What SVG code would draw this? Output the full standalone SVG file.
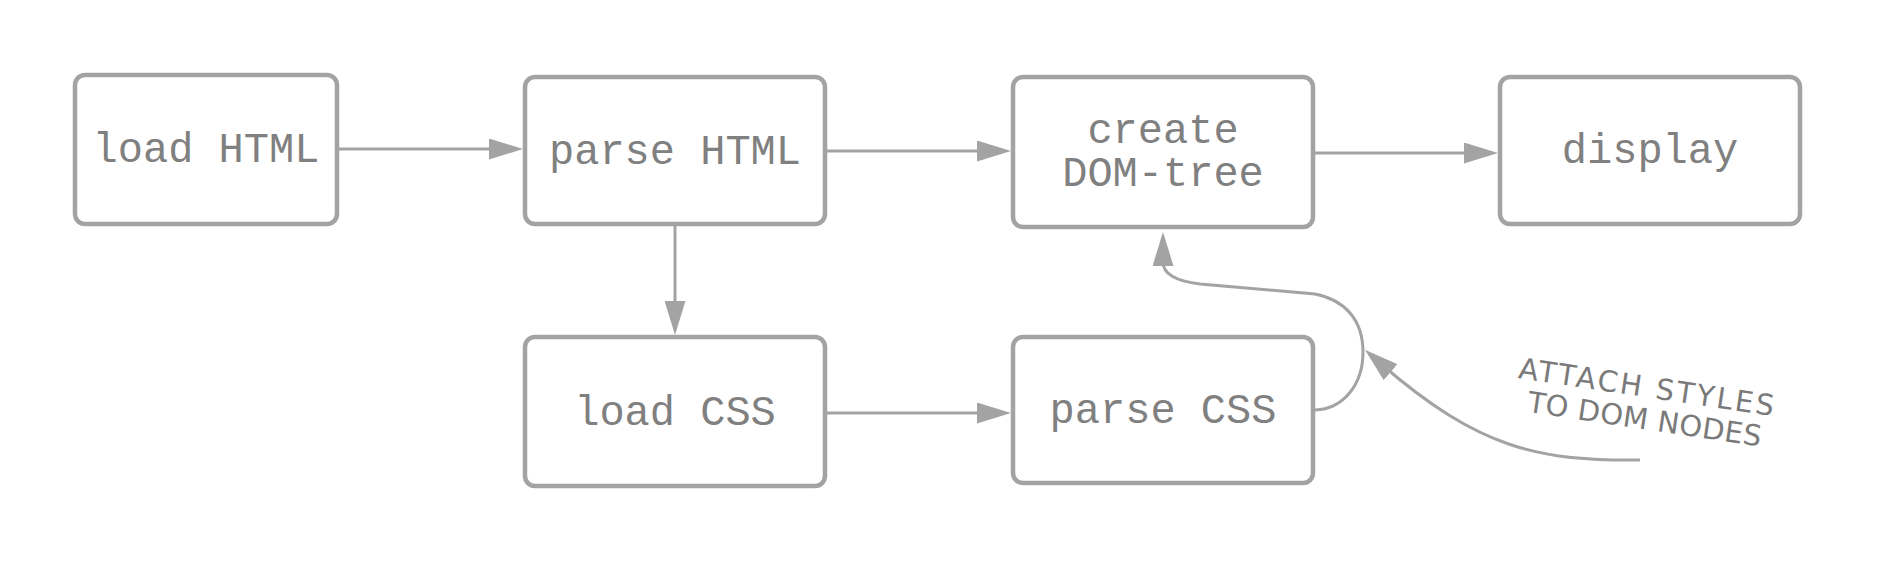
<svg xmlns="http://www.w3.org/2000/svg" width="1881" height="564" viewBox="0 0 1881 564">
<style>
.box{fill:#ffffff;stroke:#a3a3a3;stroke-width:4.5}
.lbl{font-family:"Liberation Mono","DejaVu Sans Mono",monospace;font-size:42px;fill:#808080;text-anchor:middle}
.con{fill:none;stroke:#a3a3a3;stroke-width:3}
.note{font-family:"DejaVu Sans","Liberation Sans",sans-serif;font-size:29px;fill:#7a7a7a;text-anchor:middle}
</style>
<defs>
<marker id="ah" markerUnits="userSpaceOnUse" markerWidth="34" markerHeight="21" refX="14" refY="10.5" orient="auto">
<path d="M0,0 L34,10.5 L0,21 z" fill="#a3a3a3"/>
</marker>
</defs>
<rect width="1881" height="564" fill="#ffffff"/>
<g id="connectors">
<path class="con" d="M339,149 L503,149" marker-end="url(#ah)"/>
<path class="con" d="M827,151 L991,151" marker-end="url(#ah)"/>
<path class="con" d="M1315,153 L1478,153" marker-end="url(#ah)"/>
<path class="con" d="M675,226 L675,315" marker-end="url(#ah)"/>
<path class="con" d="M827,413 L991,413" marker-end="url(#ah)"/>
<path class="con" d="M1315,410 C1343,409 1363,385 1363,352 C1363,320 1345,300 1315,294 L1200,284 C1175,281 1163,273 1163,262 L1163,252" marker-end="url(#ah)"/>
<path class="con" d="M1640,460 C1540,461 1480,450 1380,363" marker-end="url(#ah)"/>
</g>
<g id="load-html">
<rect class="box" x="75" y="75" width="262" height="149" rx="10"/>
<text class="lbl" x="206" y="162">load HTML</text>
</g>
<g id="parse-html">
<rect class="box" x="525" y="77" width="300" height="147" rx="10"/>
<text class="lbl" x="675" y="164">parse HTML</text>
</g>
<g id="create-dom">
<rect class="box" x="1013" y="77" width="300" height="150" rx="10"/>
<text class="lbl" x="1163" y="143">create</text>
<text class="lbl" x="1163" y="186">DOM-tree</text>
</g>
<g id="display">
<rect class="box" x="1500" y="77" width="300" height="147" rx="10"/>
<text class="lbl" x="1650" y="163">display</text>
</g>
<g id="load-css">
<rect class="box" x="525" y="337" width="300" height="149" rx="10"/>
<text class="lbl" x="675" y="425">load CSS</text>
</g>
<g id="parse-css">
<rect class="box" x="1013" y="337" width="300" height="146" rx="10"/>
<text class="lbl" x="1163" y="423">parse CSS</text>
</g>
<g id="annotation" transform="translate(1645,397) rotate(8.5)">
<text class="note" x="0" y="0" textLength="258" lengthAdjust="spacing">ATTACH STYLES</text>
<text class="note" x="3" y="32" textLength="236" lengthAdjust="spacing">TO DOM NODES</text>
</g>
</svg>
